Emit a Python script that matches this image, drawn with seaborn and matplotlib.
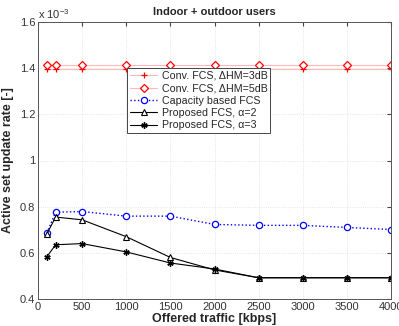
import matplotlib
matplotlib.use("Agg")
import matplotlib.pyplot as plt
import seaborn as sns
import pandas as pd

traffic = [100, 200, 500, 1000, 1500, 2000, 2500, 3000, 3500, 4000]
conv_3db = [1.395] * 10
conv_5db = [1.412] * 10
capacity = [0.686, 0.776, 0.779, 0.759, 0.759, 0.723, 0.719, 0.719, 0.710, 0.701]
prop_a2 = [0.682, 0.755, 0.743, 0.670, 0.580, 0.526, 0.492, 0.492, 0.492, 0.492]
prop_a3 = [0.583, 0.635, 0.640, 0.604, 0.556, 0.530, 0.492, 0.492, 0.492, 0.492]
x_ticks = [0, 500, 1000, 1500, 2000, 2500, 3000, 3500, 4000]
y_ticks = [0.4, 0.6, 0.8, 1.0, 1.2, 1.4, 1.6]

sns.set_style("white")
plt.rcParams['font.family'] = ['Liberation Sans', 'DejaVu Sans']
plt.rcParams['mathtext.fontset'] = 'custom'
plt.rcParams['mathtext.rm'] = 'Liberation Sans'
plt.rcParams['mathtext.it'] = 'Liberation Sans'

fig = plt.figure(figsize=(3.99, 3.26), dpi=100)
ax = fig.add_axes([38/399, 27/326, 353/399, 277/326])

series = [
    ("Conv. FCS, \u0394HM=3dB", conv_3db, dict(color="#ffb8b8", marker="+", markersize=5,
        markeredgecolor="red", markerfacecolor="none", linestyle="-", linewidth=0.8, markeredgewidth=0.9)),
    ("Conv. FCS, \u0394HM=5dB", conv_5db, dict(color="#ffb8b8", marker="D", markersize=3.8,
        markeredgecolor="red", markerfacecolor="white", linestyle="-", linewidth=0.8, markeredgewidth=0.9)),
    ("Capacity based FCS", capacity, dict(color="blue", marker="o", markersize=4.5,
        markeredgecolor="blue", markerfacecolor="white", linestyle=":", linewidth=1.0, markeredgewidth=0.9)),
    ("Proposed FCS, \u03b1=2", prop_a2, dict(color="black", marker="^", markersize=4.5,
        markeredgecolor="black", markerfacecolor="white", linestyle="-", linewidth=0.8, markeredgewidth=0.8)),
    ("Proposed FCS, \u03b1=3", prop_a3, dict(color="black", marker=(6, 2, 0), markersize=4.5,
        markeredgecolor="black", markerfacecolor="black", linestyle="-", linewidth=0.8, markeredgewidth=1.0)),
]
for name, vals, kw in series:
    df = pd.DataFrame({"x": traffic, "y": vals})
    sns.lineplot(data=df, x="x", y="y", ax=ax, label=name, **kw)

ax.set_xlim(0, 4000)
ax.set_ylim(0.4, 1.6)
ax.set_xticks(x_ticks)
ax.set_yticks(y_ticks)
ax.set_xticklabels([str(t) for t in x_ticks], fontsize=8, color="#333333")
ax.set_yticklabels([f"{t:g}" for t in y_ticks], fontsize=8, color="#333333")
ax.tick_params(direction="in", length=3, top=True, right=True, pad=2, color="#444444")
ax.grid(True, color="#dddddd", linewidth=0.6, linestyle=":")
for s in ax.spines.values():
    s.set_color("#555555")
    s.set_linewidth(0.7)

ax.set_xlabel("Offered traffic [kbps]", fontsize=9, fontweight="bold", labelpad=1)
ax.set_ylabel("Active set update rate [-]", fontsize=9, fontweight="bold", labelpad=4)
ax.set_title("Indoor + outdoor users", fontsize=8, fontweight="bold", pad=5)
ax.text(0.0, 1.005, "x 10$^{-3}$", transform=ax.transAxes, fontsize=8, ha="left", va="bottom", color="#333333")

leg = ax.legend(loc="upper left", bbox_to_anchor=(0.252, 0.833), fontsize=7.7,
                frameon=True, fancybox=False, edgecolor="#444444", framealpha=1,
                borderpad=0.25, labelspacing=0.22, handlelength=2.6, handletextpad=0.4,
                borderaxespad=0)
leg.get_frame().set_linewidth(0.7)

fig.savefig("out.png", dpi=100)
